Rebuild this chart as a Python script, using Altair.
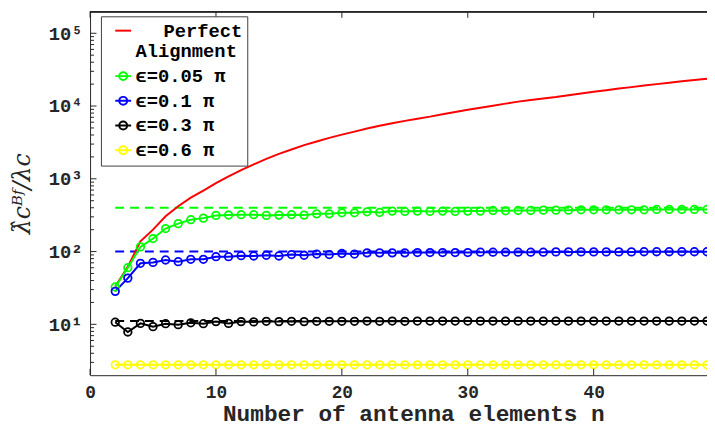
import altair as alt
import pandas as pd

# ---------------- data ----------------
n_vals = list(range(2, 50))

red_vals = [33, 62, 138, 200, 305, 420, 550, 690, 870, 1080,
            1320, 1580, 1880, 2200, 2530, 2900, 3250, 3650, 4050, 4450,
            4900, 5350, 5800, 6250, 6700, 7150, 7700, 8300, 8900, 9500,
            10100, 10800, 11500, 12100, 12700, 13300, 14100, 14900, 15700, 16500,
            17400, 18200, 19100, 20000, 20900, 21900, 22800, 23700]
green_vals = [32.6, 60, 116, 151, 207, 242, 274, 288, 314, 318, 321,
              321, 314, 317, 321, 317, 330, 330, 341, 341, 352,
              345, 360, 356, 360, 356, 360, 356, 360, 360, 367,
              363, 367, 367, 371, 371, 371, 375, 375, 375, 375,
              375, 375, 379, 379, 379, 379, 379]
blue_vals = [28.4, 43.2, 69, 71, 76.6, 72.6, 78.3, 78.3, 85, 85, 87.7,
             87, 89, 87, 91, 89, 92.5, 91, 94, 92.5, 96,
             96, 96, 96, 97, 97, 97, 97, 97, 98, 98,
             98, 98, 98, 98, 99, 99, 99, 99, 99, 99,
             99, 99.5, 99.5, 99.5, 99.5, 99.5, 99.5]
black_vals = [10.7, 7.85, 10.3, 9.3, 10.2, 9.9, 10.5, 10.2, 10.9, 10.3, 10.9,
              10.8, 11.0, 10.9, 11.0, 10.9, 11.0, 11.0, 11.0, 11.0, 11.1,
              11.0, 11.1, 11.0, 11.1, 11.1, 11.1, 11.1, 11.1, 11.1, 11.1,
              11.1, 11.1, 11.1, 11.1, 11.1, 11.1, 11.1, 11.1, 11.1, 11.1,
              11.1, 11.1, 11.1, 11.1, 11.1, 11.1, 11.1]
yellow_vals = [2.78, 2.78, 2.78, 2.78, 2.78, 2.78, 2.78, 2.78, 2.78, 2.78,
               2.78, 2.78, 2.78, 2.78, 2.78, 2.78, 2.78, 2.78, 2.78, 2.78,
               2.78, 2.78, 2.78, 2.78, 2.78, 2.78, 2.78, 2.78, 2.78, 2.78,
               2.78, 2.78, 2.78, 2.78, 2.78, 2.78, 2.78, 2.78, 2.78, 2.78,
               2.78, 2.78, 2.78, 2.78, 2.78, 2.78, 2.78, 2.78]

series_names = ["Perfect Alignment", "ϵ=0.05 π", "ϵ=0.1 π", "ϵ=0.3 π", "ϵ=0.6 π"]
series_colors = ["#ff0000", "#00ff00", "#0000ff", "#000000", "#ffff00"]
asymptote_vals = [400, 100, 11.1, 2.78]          # dashed levels for the ϵ series
dash_n = [2, 49]

x_tick_vals = [0, 10, 20, 30, 40]
y_major_vals = [10, 100, 1000, 10000, 100000]
y_minor_vals = [3, 4, 5, 6, 7, 8, 9,
                20, 30, 40, 50, 60, 70, 80, 90,
                200, 300, 400, 500, 600, 700, 800, 900,
                2000, 3000, 4000, 5000, 6000, 7000, 8000, 9000,
                20000, 30000, 40000, 50000, 60000, 70000, 80000, 90000]

x_title = "Number of antenna elements n"
y_title = "λ̂cᴮᶠ/λc"

# ---------------- tables ----------------
all_vals = [red_vals, green_vals, blue_vals, black_vals, yellow_vals]
rows = []
for name, col, vals in zip(series_names, series_colors, all_vals):
    for n, v in zip(n_vals, vals):
        rows.append({"series": name, "col": col, "n": n, "v": v})
df = pd.DataFrame(rows)
df_pts = df[df["series"] != series_names[0]]

drows = []
for name, col, a in zip(series_names[1:], series_colors[1:], asymptote_vals):
    for n in dash_n:
        drows.append({"series": name, "col": col, "n": n, "v": a})
df_dash = pd.DataFrame(drows)

df_leg = pd.DataFrame({"series": series_names, "n": [1] * 5, "v": [1] * 5})
df_xt = pd.DataFrame({"t": x_tick_vals})
df_ymaj = pd.DataFrame({"v": y_major_vals})
df_ymin = pd.DataFrame({"v": y_minor_vals})

# ---------------- layout ----------------
W, H = 624, 368
MONO = "Liberation Mono, DejaVu Sans Mono, monospace"
AX = "#262626"

xscale = alt.Scale(domain=[0, 49], nice=False, zero=False)
yscale = alt.Scale(type="log", domain=[2, 200000], nice=False)

sup = "['⁰','¹','²','³','⁴','⁵']"
xaxis = alt.Axis(values=x_tick_vals, ticks=False, grid=False, domainColor=AX,
                 labelFont=MONO, labelFontSize=18, labelFontWeight="bold",
                 labelColor=AX, labelPadding=9, labelFlush=False,
                 title=x_title, titleFont=MONO, titleFontSize=23,
                 titleFontWeight="bold", titleColor=AX, titleX=327, titleY=39,
                 titleBaseline="middle")
yaxis = alt.Axis(values=y_major_vals, ticks=False, grid=False, domainColor=AX,
                 labelFont=MONO, labelFontSize=19, labelFontWeight="bold",
                 labelColor=AX, labelPadding=8,
                 labelExpr="'10' + " + sup + "[round(log(datum.value)/LN10)]",
                 title=y_title, titleFont="DejaVu Serif", titleFontSize=24,
                 titleFontStyle="italic", titleFontWeight="normal", titleColor=AX,
                 titleX=-56, titleY=H / 2)

X = alt.X("n:Q", scale=xscale, axis=xaxis)
Y = alt.Y("v:Q", scale=yscale, axis=yaxis)

dashed = alt.Chart(df_dash).mark_line(strokeDash=[9, 6], strokeWidth=2, clip=True).encode(
    x=X, y=Y, color=alt.Color("col:N", scale=None), detail="series:N")

lines = alt.Chart(df).mark_line(strokeWidth=2, clip=True).encode(
    x=X, y=Y, color=alt.Color("col:N", scale=None), detail="series:N")

points = alt.Chart(df_pts).mark_point(shape="circle", filled=False, size=58,
                                      strokeWidth=1.8, opacity=1, clip=True).encode(
    x=X, y=Y, color=alt.Color("col:N", scale=None), detail="series:N")

line_path = "M-1,0L1,0"
circ_path = "M-1,0L1,0M-0.5,0A0.5,0.5,0,1,1,0.5,0A0.5,0.5,0,1,1,-0.5,0"
paths = [line_path, circ_path, circ_path, circ_path, circ_path]

nb = "\u2800\u2800"
leg_expr = ("datum.label == 'Perfect Alignment' ? ['" + nb + "Perfect', 'Alignment'] : datum.label")
legend_kw = dict(title=None, orient="none", legendX=11, legendY=5,
                 labelFont=MONO, labelFontSize=19, labelFontWeight="bold",
                 labelColor="#000000", labelExpr=leg_expr, labelLimit=300,
                 symbolSize=256, symbolStrokeWidth=2, symbolFillColor="transparent",
                 fillColor="white", strokeColor="#404040", padding=5,
                 symbolOffset=8, labelOffset=3, rowPadding=5, cornerRadius=0)

legend_layer = alt.Chart(df_leg).mark_point(filled=False, strokeWidth=2, clip=True).encode(
    x=X, y=Y,
    color=alt.Color("series:N", scale=alt.Scale(domain=series_names, range=series_colors),
                    legend=alt.Legend(**legend_kw)),
    shape=alt.Shape("series:N", scale=alt.Scale(domain=series_names, range=paths),
                    legend=alt.Legend(**legend_kw)))

# inward ticks (MATLAB style) and top box line
xt_bottom = alt.Chart(df_xt).mark_rule(color=AX, strokeWidth=1).encode(
    x=alt.X("t:Q", scale=xscale), y=alt.value(H), y2=alt.value(H - 6.5))
xt_top = alt.Chart(df_xt).mark_rule(color=AX, strokeWidth=1).encode(
    x=alt.X("t:Q", scale=xscale), y=alt.value(0), y2=alt.value(6.5))
yt_major = alt.Chart(df_ymaj).mark_rule(color=AX, strokeWidth=1).encode(
    y=alt.Y("v:Q", scale=yscale), x=alt.value(0), x2=alt.value(6.5))
yt_minor = alt.Chart(df_ymin).mark_rule(color=AX, strokeWidth=1).encode(
    y=alt.Y("v:Q", scale=yscale), x=alt.value(0), x2=alt.value(4))
top_line = alt.Chart(df_xt).mark_rule(color=AX, strokeWidth=1).encode(
    x=alt.value(0), x2=alt.value(W + 2), y=alt.value(0.5))

chart = alt.layer(
    dashed, lines, points, legend_layer, xt_bottom, xt_top, yt_major, yt_minor, top_line
).properties(
    width=W, height=H,
    autosize=alt.AutoSizeParams(type="none"),
    padding={"left": 83, "top": 1, "right": 0, "bottom": 51},
    background="white",
).configure_view(stroke=None)

chart.save("out.html", embed_options={"renderer": "svg", "actions": False})
